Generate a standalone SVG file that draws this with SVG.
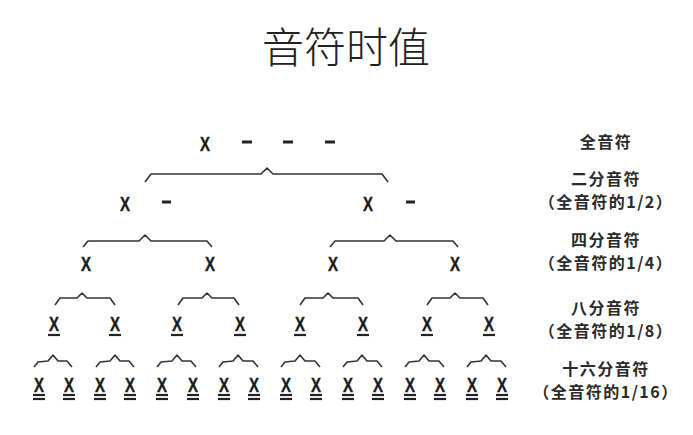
<svg xmlns="http://www.w3.org/2000/svg" width="693" height="435" viewBox="0 0 693 435">
<style>
.title{font-family:"Noto Sans CJK SC","Noto Sans",sans-serif;font-size:42px;font-weight:300;fill:#222;text-anchor:middle}
.lbl{font-family:"Noto Sans CJK SC","Noto Sans",sans-serif;font-size:16px;font-weight:700;fill:#2a2a2a;text-anchor:middle;letter-spacing:1.5px}
.x{font-family:"Liberation Sans",Arial,sans-serif;font-size:20px;font-weight:700;fill:#1a1a1a;text-anchor:middle;stroke:#1a1a1a;stroke-width:0.4}
.br{fill:none;stroke:#333;stroke-width:1.6;stroke-linejoin:round}
.ln{stroke:#222;stroke-width:2.2}
.dash{stroke:#222;stroke-width:3}
</style>
<defs>
<g id="u1"><line class="ln" x1="-6" y1="0" x2="6" y2="0"/></g>
<g id="u2"><line class="ln" x1="-6" y1="0" x2="6" y2="0"/><line class="ln" x1="-6" y1="4" x2="6" y2="4"/></g>
</defs>
<rect width="693" height="435" fill="#fff"/>
<text class="title" x="346" y="63">音符时值</text>

<g id="connectors">
<path class="br" d="M145,182 L151,174 L261,174 L267,168 L273,174 L382,174 L388,182"/>
<path class="br" d="M83,247 L88,241 L139,241 L145,235 L151,241 L207,241 L212,247"/>
<path class="br" d="M330,247 L335,241 L384,241 L390,235 L396,241 L453,241 L458,247"/>
<path class="br" d="M55,305 L60,298 L77,298 L82,293 L87,298 L110,298 L115,305"/>
<path class="br" d="M178,305 L183,298 L202,298 L207,293 L212,298 L234,298 L239,305"/>
<path class="br" d="M300,305 L305,298 L323,298 L328,293 L333,298 L358,298 L363,305"/>
<path class="br" d="M427,305 L432,298 L450,298 L455,293 L460,298 L483,298 L488,305"/>
<path class="br" d="M34,367 L38,362 L48,361 L53,355 L58,361 L67,361 L72,367"/>
<path class="br" d="M96,367 L100,362 L110,361 L115,355 L120,361 L129,361 L134,367"/>
<path class="br" d="M157,367 L161,362 L172,361 L177,355 L182,361 L191,361 L196,367"/>
<path class="br" d="M219,367 L223,362 L233,361 L238,355 L243,361 L253,361 L258,367"/>
<path class="br" d="M281,367 L285,362 L295,361 L300,355 L305,361 L315,361 L320,367"/>
<path class="br" d="M343,367 L347,362 L357,361 L362,355 L367,361 L377,361 L382,367"/>
<path class="br" d="M405,367 L409,362 L419,361 L424,355 L429,361 L439,361 L444,367"/>
<path class="br" d="M467,367 L471,362 L481,361 L486,355 L491,361 L501,361 L506,367"/>
</g>

<g id="whole">
<text class="x" x="205" y="151" textLength="10" lengthAdjust="spacingAndGlyphs">X</text>
<line class="dash" x1="242" y1="142" x2="252" y2="142"/>
<line class="dash" x1="283" y1="142" x2="293" y2="142"/>
<line class="dash" x1="325" y1="142" x2="335" y2="142"/>
</g>

<g id="half">
<text class="x" x="125" y="211" textLength="10" lengthAdjust="spacingAndGlyphs">X</text>
<line class="dash" x1="162" y1="202" x2="171" y2="202"/>
<text class="x" x="368" y="211" textLength="10" lengthAdjust="spacingAndGlyphs">X</text>
<line class="dash" x1="406" y1="202" x2="415" y2="202"/>
</g>

<g id="quarter">
<text class="x" x="86" y="271" textLength="10" lengthAdjust="spacingAndGlyphs">X</text>
<text class="x" x="210" y="271" textLength="10" lengthAdjust="spacingAndGlyphs">X</text>
<text class="x" x="333" y="271" textLength="10" lengthAdjust="spacingAndGlyphs">X</text>
<text class="x" x="455" y="271" textLength="10" lengthAdjust="spacingAndGlyphs">X</text>
</g>

<g id="eighth">
<text class="x" x="54" y="331" textLength="10" lengthAdjust="spacingAndGlyphs">X</text>
<text class="x" x="115" y="331" textLength="10" lengthAdjust="spacingAndGlyphs">X</text>
<text class="x" x="177" y="331" textLength="10" lengthAdjust="spacingAndGlyphs">X</text>
<text class="x" x="240" y="331" textLength="10" lengthAdjust="spacingAndGlyphs">X</text>
<text class="x" x="300" y="331" textLength="10" lengthAdjust="spacingAndGlyphs">X</text>
<text class="x" x="363" y="331" textLength="10" lengthAdjust="spacingAndGlyphs">X</text>
<text class="x" x="427" y="331" textLength="10" lengthAdjust="spacingAndGlyphs">X</text>
<text class="x" x="489" y="331" textLength="10" lengthAdjust="spacingAndGlyphs">X</text>
<use href="#u1" x="54" y="335"/><use href="#u1" x="115" y="335"/><use href="#u1" x="177" y="335"/><use href="#u1" x="240" y="335"/>
<use href="#u1" x="300" y="335"/><use href="#u1" x="363" y="335"/><use href="#u1" x="427" y="335"/><use href="#u1" x="489" y="335"/>
</g>

<g id="sixteenth">
<text class="x" x="39" y="392" textLength="10" lengthAdjust="spacingAndGlyphs">X</text>
<text class="x" x="69" y="392" textLength="10" lengthAdjust="spacingAndGlyphs">X</text>
<text class="x" x="100" y="392" textLength="10" lengthAdjust="spacingAndGlyphs">X</text>
<text class="x" x="130" y="392" textLength="10" lengthAdjust="spacingAndGlyphs">X</text>
<text class="x" x="162" y="392" textLength="10" lengthAdjust="spacingAndGlyphs">X</text>
<text class="x" x="193" y="392" textLength="10" lengthAdjust="spacingAndGlyphs">X</text>
<text class="x" x="224" y="392" textLength="10" lengthAdjust="spacingAndGlyphs">X</text>
<text class="x" x="254" y="392" textLength="10" lengthAdjust="spacingAndGlyphs">X</text>
<text class="x" x="286" y="392" textLength="10" lengthAdjust="spacingAndGlyphs">X</text>
<text class="x" x="316" y="392" textLength="10" lengthAdjust="spacingAndGlyphs">X</text>
<text class="x" x="348" y="392" textLength="10" lengthAdjust="spacingAndGlyphs">X</text>
<text class="x" x="378" y="392" textLength="10" lengthAdjust="spacingAndGlyphs">X</text>
<text class="x" x="410" y="392" textLength="10" lengthAdjust="spacingAndGlyphs">X</text>
<text class="x" x="440" y="392" textLength="10" lengthAdjust="spacingAndGlyphs">X</text>
<text class="x" x="472" y="392" textLength="10" lengthAdjust="spacingAndGlyphs">X</text>
<text class="x" x="502" y="392" textLength="10" lengthAdjust="spacingAndGlyphs">X</text>
<use href="#u2" x="39" y="395"/><use href="#u2" x="69" y="395"/><use href="#u2" x="100" y="395"/><use href="#u2" x="130" y="395"/>
<use href="#u2" x="162" y="395"/><use href="#u2" x="193" y="395"/><use href="#u2" x="224" y="395"/><use href="#u2" x="254" y="395"/>
<use href="#u2" x="286" y="395"/><use href="#u2" x="316" y="395"/><use href="#u2" x="348" y="395"/><use href="#u2" x="378" y="395"/>
<use href="#u2" x="410" y="395"/><use href="#u2" x="440" y="395"/><use href="#u2" x="472" y="395"/><use href="#u2" x="502" y="395"/>
</g>

<g id="labels">
<text class="lbl" x="606" y="148">全音符</text>
<text class="lbl" x="606" y="185">二分音符</text>
<text class="lbl" x="606" y="208">（全音符的1/2）</text>
<text class="lbl" x="606" y="246">四分音符</text>
<text class="lbl" x="606" y="269">（全音符的1/4）</text>
<text class="lbl" x="606" y="314">八分音符</text>
<text class="lbl" x="606" y="337">（全音符的1/8）</text>
<text class="lbl" x="606" y="375">十六分音符</text>
<text class="lbl" x="606" y="398">（全音符的1/16）</text>
</g>
</svg>
